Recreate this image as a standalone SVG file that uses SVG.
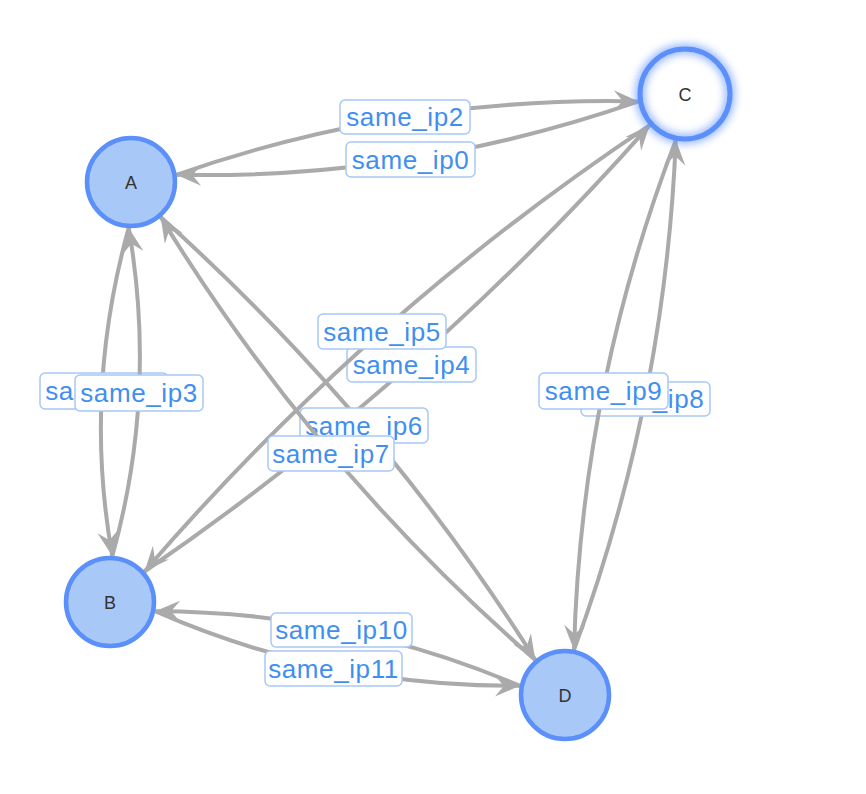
<svg xmlns="http://www.w3.org/2000/svg" width="866" height="794" viewBox="0 0 866 794">
<style>
.edge{fill:none;stroke:#aaaaaa;stroke-width:4;marker-end:url(#arrow)}
.lbox{fill:#ffffff;stroke:#a6c8f8;stroke-width:1.5}
.ltxt{font-family:"Liberation Sans",Arial,sans-serif;font-size:26px;fill:#3f8ff0;text-anchor:middle;letter-spacing:0.6px}
.node{fill:#a8c8f8;stroke:#5b8ff9;stroke-width:4.5}
.ntxt{font-family:"Liberation Sans",Arial,sans-serif;font-size:18px;fill:#333333;text-anchor:middle}
</style>
<defs>
<marker id="arrow" markerUnits="userSpaceOnUse" viewBox="-28 -14 30 28" refX="0" refY="0" markerWidth="30" markerHeight="28" orient="auto" overflow="visible">
<path d="M0,0 L-25,-10.5 L-16,0 L-25,10.5 Z" fill="#aaaaaa"/>
</marker>
<filter id="glow" x="-50%" y="-50%" width="200%" height="200%">
<feGaussianBlur stdDeviation="4"/>
</filter>
</defs>
<rect width="866" height="794" fill="#ffffff"/>
<g id="connectors">
<g id="e-ip0"><path class="edge" d="M638.6,101.4 Q412.5,179.9 176.4,174.8"/><rect class="lbox" x="346" y="142" width="129" height="35" rx="5"/><text class="ltxt" x="410.5" y="168.5">same_ip0</text></g>
<g id="e-ip1"><path class="edge" d="M128.7,227.9 Q83,392 112.3,556.1"/><rect class="lbox" x="40" y="373" width="128" height="36" rx="5"/><text class="ltxt" x="104" y="400">same_ip1</text></g>
<g id="e-ip2"><path class="edge" d="M176.4,174.8 Q402.5,95.9 638.6,101.4"/><rect class="lbox" x="340" y="100" width="130" height="34" rx="5"/><text class="ltxt" x="405" y="126">same_ip2</text></g>
<g id="e-ip3"><path class="edge" d="M112.3,556.1 Q157.5,394 128.7,227.9"/><rect class="lbox" x="75" y="375" width="128" height="36" rx="5"/><text class="ltxt" x="139" y="402">same_ip3</text></g>
<g id="e-ip4"><path class="edge" d="M144.5,571.5 Q424.8,379.7 649.8,125.1"/><rect class="lbox" x="347" y="347" width="129" height="35" rx="5"/><text class="ltxt" x="411.5" y="373.5">same_ip4</text></g>
<g id="e-ip5"><path class="edge" d="M649.8,125.1 Q366.8,313.7 144.5,571.5"/><rect class="lbox" x="318" y="314" width="128" height="35" rx="5"/><text class="ltxt" x="382" y="340.5">same_ip5</text></g>
<g id="e-ip6"><path class="edge" d="M160.7,217.1 Q380,413.5 535.3,659.9"/><rect class="lbox" x="300" y="408" width="128" height="35" rx="5"/><text class="ltxt" x="364" y="434.5">same_ip6</text></g>
<g id="e-ip7"><path class="edge" d="M535.3,659.9 Q314,467.5 160.7,217.1"/><rect class="lbox" x="268" y="436" width="126" height="35" rx="5"/><text class="ltxt" x="331" y="462.5">same_ip7</text></g>
<g id="e-ip8"><path class="edge" d="M574,649.9 Q665.1,403 675.8,140.1"/><rect class="lbox" x="581" y="382" width="129" height="34" rx="5"/><text class="ltxt" x="645.5" y="408">same_ip8</text></g>
<g id="e-ip9"><path class="edge" d="M675.8,140.1 Q581.1,387 574,649.9"/><rect class="lbox" x="539" y="373" width="129" height="36" rx="5"/><text class="ltxt" x="603.5" y="400">same_ip9</text></g>
<g id="e-ip10"><path class="edge" d="M519.9,685.8 Q346.5,611.5 155.1,611.2"/><rect class="lbox" x="271" y="613" width="141" height="34" rx="5"/><text class="ltxt" x="341.5" y="639">same_ip10</text></g>
<g id="e-ip11"><path class="edge" d="M155.1,611.2 Q328.5,687.5 519.9,685.8"/><rect class="lbox" x="265" y="651" width="137" height="35" rx="5"/><text class="ltxt" x="333.5" y="677.5">same_ip11</text></g>
</g>
<g id="node-A"><circle class="node" cx="131" cy="182" r="44"/><text class="ntxt" x="131" y="189">A</text></g>
<g id="node-B"><circle class="node" cx="110" cy="602" r="44"/><text class="ntxt" x="110" y="609">B</text></g>
<g id="node-C">
<circle cx="685" cy="94" r="45" fill="#ffffff"/>
<circle cx="685" cy="94" r="45" fill="none" stroke="#5b8ff9" stroke-width="9" opacity="0.7" filter="url(#glow)"/>
<circle cx="685" cy="94" r="45" fill="none" stroke="#5b8ff9" stroke-width="5"/>
<text class="ntxt" x="685" y="101">C</text></g>
<g id="node-D"><circle class="node" cx="565" cy="695" r="44"/><text class="ntxt" x="565" y="702">D</text></g>
</svg>
